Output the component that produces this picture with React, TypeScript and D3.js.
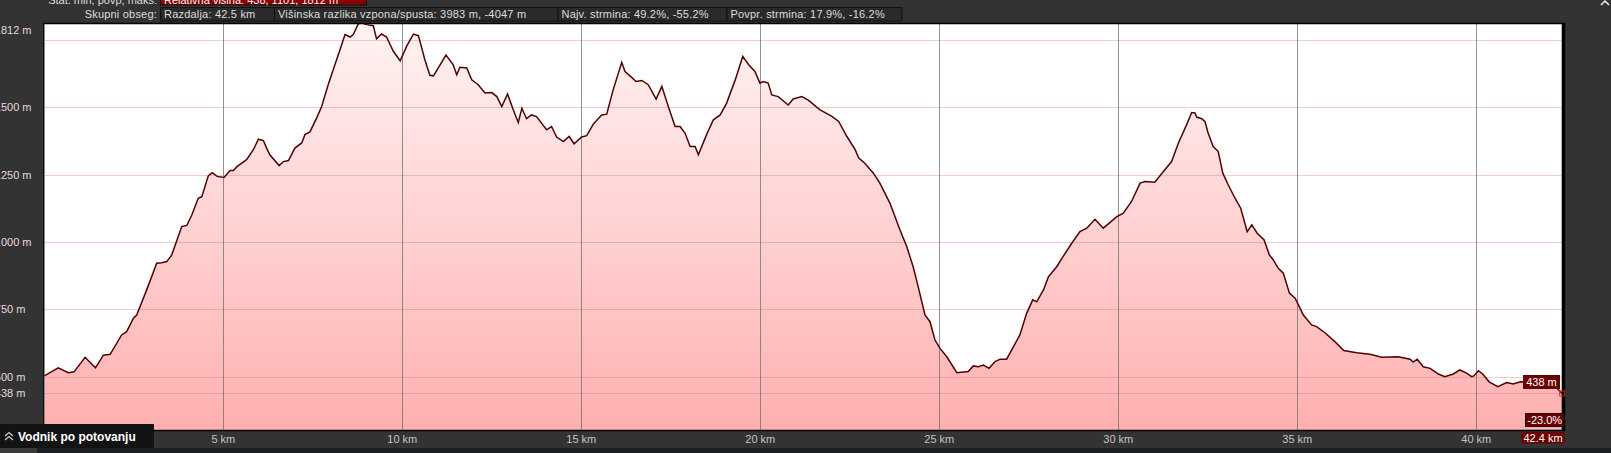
import React from "react";
import * as d3 from "d3";

const kmData = [0,0.39,0.67,0.83,1.14,1.43,1.65,1.84,2.16,2.3,2.49,2.58,2.86,3.14,3.28,3.42,3.56,3.84,3.98,4.12,4.3,4.4,4.58,4.69,4.83,5.02,5.19,5.28,5.39,5.65,5.84,5.98,6.12,6.21,6.3,6.56,6.68,6.82,7.0,7.19,7.28,7.42,7.61,7.75,7.93,8.12,8.26,8.4,8.54,8.63,8.77,8.87,9.01,9.19,9.28,9.42,9.56,9.75,9.94,10.12,10.31,10.45,10.63,10.77,10.87,11.22,11.42,11.52,11.61,11.8,11.94,12.12,12.31,12.5,12.64,12.78,12.94,13.1,13.24,13.34,13.47,13.61,13.75,14.03,14.17,14.31,14.5,14.66,14.8,15.01,15.15,15.34,15.57,15.71,15.89,16.13,16.22,16.36,16.53,16.69,16.87,17.09,17.25,17.43,17.62,17.76,17.9,18.04,18.18,18.27,18.5,18.69,18.88,19.06,19.3,19.51,19.67,19.85,19.99,20.08,20.22,20.32,20.5,20.78,20.92,21.16,21.34,21.67,22.0,22.19,22.42,22.65,22.75,22.92,23.16,23.34,23.62,23.9,24.09,24.27,24.41,24.6,24.74,24.88,25.02,25.21,25.49,25.81,25.95,26.09,26.23,26.39,26.56,26.7,26.88,27.07,27.25,27.44,27.61,27.72,27.91,28.05,28.28,28.46,28.7,28.93,29.12,29.35,29.58,29.96,30.14,30.37,30.61,30.75,31.02,31.26,31.49,31.68,31.91,32.05,32.14,32.19,32.33,32.42,32.51,32.65,32.79,32.92,33.07,33.26,33.42,33.6,33.73,33.88,34.07,34.22,34.33,34.47,34.61,34.78,34.94,35.17,35.4,35.54,35.77,36.05,36.3,36.66,37.03,37.36,37.82,38.15,38.24,38.35,38.52,38.71,38.94,39.12,39.36,39.54,39.73,39.87,39.93,40.06,40.18,40.36,40.6,40.85,41.03,41.24,41.6,42.0,42.25,42.4];

const elevData = [503,533,515,518,572,533,580,583,655,667,717,729,822,921,923,927,952,1057,1061,1100,1162,1168,1245,1257,1243,1239,1265,1265,1280,1305,1342,1381,1376,1348,1323,1283,1298,1302,1348,1367,1398,1408,1460,1503,1583,1658,1713,1769,1760,1769,1809,1812,1806,1802,1753,1771,1760,1707,1672,1725,1771,1765,1676,1618,1616,1693,1658,1620,1648,1645,1601,1583,1552,1554,1539,1502,1549,1490,1443,1496,1457,1471,1465,1416,1428,1389,1372,1391,1364,1389,1394,1438,1471,1474,1564,1666,1632,1616,1595,1599,1583,1530,1577,1502,1428,1428,1403,1354,1354,1323,1398,1453,1471,1515,1601,1688,1658,1632,1589,1595,1589,1545,1539,1508,1530,1539,1526,1490,1466,1447,1391,1342,1311,1292,1255,1218,1144,1045,983,908,834,729,704,636,605,574,515,519,540,537,543,531,556,565,565,611,655,735,785,778,822,871,908,946,995,1038,1051,1084,1051,1094,1107,1150,1218,1224,1221,1261,1298,1367,1435,1480,1478,1463,1457,1447,1404,1354,1336,1255,1212,1162,1125,1038,1063,1032,1008,952,933,902,884,810,791,729,692,686,663,630,597,589,583,572,574,565,554,565,537,531,510,500,510,525,513,500,503,522,510,481,463,478,473,481,478,470,458,438];

const xTicks = [5, 10, 15, 20, 25, 30, 35, 40];
const yGrid = [1750, 1500, 1250, 1000, 750, 500, 438];
const yLabels = [1812, 1500, 1250, 1000, 750, 500, 438];

const statsLabel = "Skupni obseg:";
const statsRow1Label = "Stat. min, povp, maks:";
const statsRow1Value = "Relativna višina: 438, 1101, 1812 m";
const statsBoxes = [
  "Razdalja: 42.5 km",
  "Višinska razlika vzpona/spusta: 3983 m, -4047 m",
  "Najv. strmina: 49.2%, -55.2%",
  "Povpr. strmina: 17.9%, -16.2%",
];
const statsBoxEdges = [160, 274, 557.5, 726.5, 901.5];

const endElev = "438 m";
const endGrade = "-23.0%";
const endDist = "42.4 km";

const FONT = "'Liberation Sans', Arial, sans-serif";

export default function App() {
  const W = 1611, H = 453;
  const left = 44.3, right = 1562.2, top = 23, bottom = 430;
  const x = d3.scaleLinear().domain([0, 42.4]).range([left, right]);
  const y = d3.scaleLinear().domain([302.3, 1812]).range([bottom, top]);
  const pts = kmData.map((k, i) => [k, elevData[i]] as [number, number]);
  const area = d3.area<[number, number]>().x(d => x(d[0])).y0(bottom).y1(d => y(d[1]))(pts) || "";
  const line = d3.line<[number, number]>().x(d => x(d[0])).y(d => y(d[1]))(pts) || "";
  const endX = x(kmData[kmData.length - 1]);
  const endY = y(elevData[elevData.length - 1]);

  return (
    <svg width={W} height={H} style={{ position: "absolute", left: 0, top: 0, display: "block" }} fontFamily={FONT}>
      <defs>
        <linearGradient id="fillg" gradientUnits="userSpaceOnUse" x1="0" y1={top} x2="0" y2={bottom}>
          <stop offset="0" stopColor="#fff3f3" />
          <stop offset="1" stopColor="#ffb0b0" />
        </linearGradient>
        <clipPath id="plotclip">
          <rect x={left} y={top} width={right - left} height={bottom - top} />
        </clipPath>
      </defs>
      <rect x={0} y={0} width={W} height={H} fill="#333333" />
      <rect x={0} y={448} width={W} height={5} fill="#1b1f23" />
      <rect x={0} y={448} width={37} height={5} fill="#3a3a3a" />

      {/* header row 1 (cut off at top, as in the original) */}
      <text x={157} y={3.5} textAnchor="end" fontSize={11} fill="#dddddd">{statsRow1Label}</text>
      <rect x={160.5} y={-12} width={206} height={17} fill="#8b0000" stroke="#111" strokeWidth={1} />
      <text x={164} y={3.5} fontSize={11} fill="#f2f2f2">{statsRow1Value}</text>

      {/* header row 2 */}
      <text x={157} y={18} textAnchor="end" fontSize={11} fill="#dddddd" letterSpacing={0.2}>{statsLabel}</text>
      {statsBoxes.map((s, i) => (
        <g key={i}>
          <rect x={statsBoxEdges[i] + 0.5} y={7.5} width={statsBoxEdges[i + 1] - statsBoxEdges[i]} height={13.5} fill="#2a2a2a" stroke="#111" strokeWidth={1} />
          <text x={statsBoxEdges[i] + 4} y={18} fontSize={11} fill="#dddddd" letterSpacing={0.2}>{s}</text>
        </g>
      ))}

      {/* plot */}
      <rect x={left} y={top} width={right - left} height={bottom - top} fill="#ffffff" />
      <g clipPath="url(#plotclip)">
        <path d={area} fill="url(#fillg)" />
        {yGrid.map(v => (
          <line key={v} x1={left} x2={right} y1={Math.round(y(v)) + 0.5} y2={Math.round(y(v)) + 0.5} stroke="rgba(215,110,110,0.35)" strokeWidth={1} />
        ))}
        {xTicks.map(v => (
          <line key={v} x1={Math.round(x(v)) + 0.5} x2={Math.round(x(v)) + 0.5} y1={top} y2={bottom} stroke="rgba(110,110,110,0.75)" strokeWidth={1} />
        ))}
        <path d={line} fill="none" stroke="#520000" strokeWidth={1.5} strokeLinejoin="miter" />
      </g>
      <line x1={left - 0.5} x2={right + 3} y1={top + 0.5} y2={top + 0.5} stroke="#000" strokeWidth={1.5} />
      <line x1={left - 0.5} x2={left - 0.5} y1={top} y2={bottom + 1} stroke="#000" strokeWidth={1} />
      <line x1={left - 0.5} x2={right + 3} y1={bottom + 0.5} y2={bottom + 0.5} stroke="#000" strokeWidth={1.5} />
      <rect x={right - 0.5} y={top} width={3.5} height={bottom - top + 1} fill="#000" />

      {/* y labels, left part clipped by the window edge as in the original */}
      {yLabels.map(v => (
        <text key={v} x={-5.2} y={Math.max(y(v), 30) + 4} fontSize={11} fill="#e6dada">{`${v} m`}</text>
      ))}

      {xTicks.map(v => (
        <text key={v} x={x(v)} y={443} textAnchor="middle" fontSize={11} fill="#c4c4c4">{`${v} km`}</text>
      ))}

      <rect x={endX - 2.5} y={endY - 2.5} width={5} height={5} fill="none" stroke="#e02020" strokeWidth={1} />
      <rect x={1523} y={375} width={37} height={14} fill="#6b0000" />
      <text x={1541.5} y={386} textAnchor="middle" fontSize={11} fill="#ffffff">{endElev}</text>
      <rect x={1525.5} y={413.5} width={38.5} height={13} fill="#6b0000" stroke="#111" strokeWidth={1} />
      <text x={1544.7} y={424} textAnchor="middle" fontSize={11} fill="#ffffff">{endGrade}</text>
      <rect x={1521.5} y={432} width={43} height={11.5} fill="#6b0000" />
      <text x={1543} y={442} textAnchor="middle" fontSize={11} fill="#ffffff">{endDist}</text>

      <polyline points="1601,5 1605,1 1609,5" fill="none" stroke="#eeeeee" strokeWidth={1.5} />

      <rect x={0} y={424} width={154} height={24} fill="#131313" />
      <polyline points="5,436 9,432.5 13,436" fill="none" stroke="#cccccc" strokeWidth={1.2} />
      <polyline points="5,440 9,436.5 13,440" fill="none" stroke="#cccccc" strokeWidth={1.2} />
      <text x={18} y={441} fontSize={12} fontWeight="bold" fill="#ffffff">Vodnik po potovanju</text>
    </svg>
  );
}
